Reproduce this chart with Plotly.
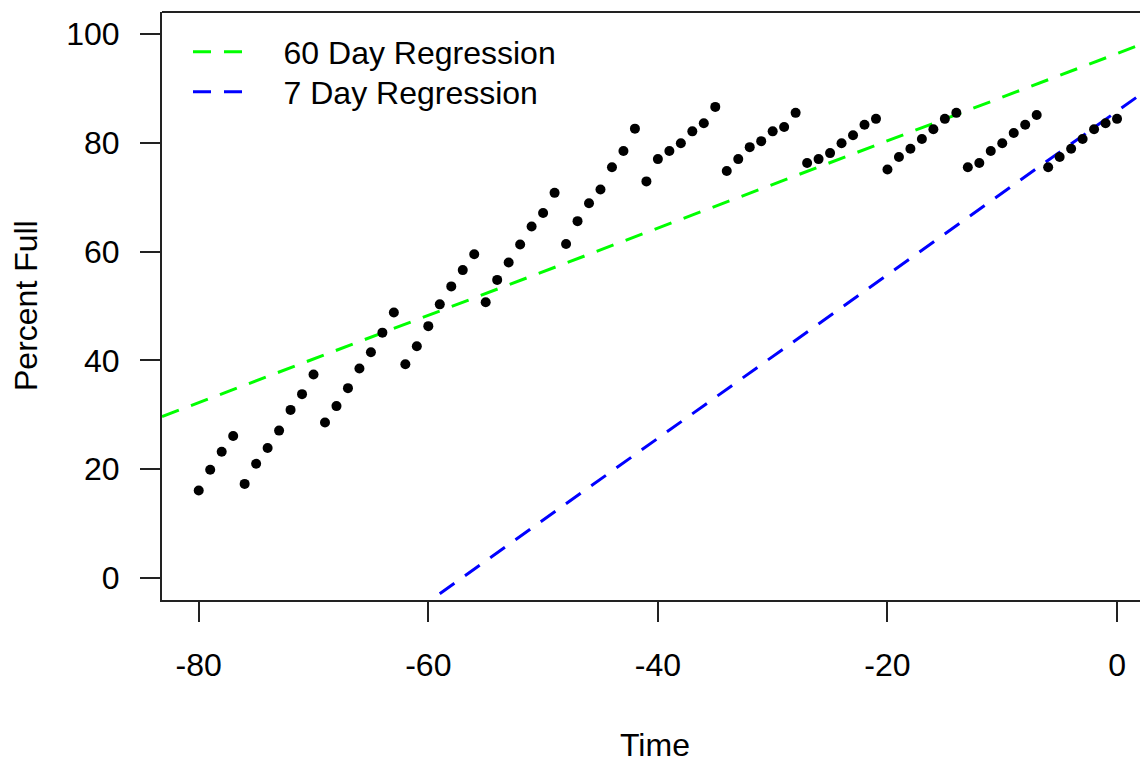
import plotly.graph_objects as go
import numpy as np

# ---- data ----
days = [-80, -79, -78, -77, -76, -75, -74, -73, -72, -71, -70,
        -69, -68, -67, -66, -65, -64, -63, -62, -61, -60,
        -59, -58, -57, -56, -55, -54, -53, -52, -51, -50,
        -49, -48, -47, -46, -45, -44, -43, -42, -41, -40,
        -39, -38, -37, -36, -35, -34, -33, -32, -31, -30,
        -29, -28, -27, -26, -25, -24, -23, -22, -21, -20,
        -19, -18, -17, -16, -15, -14, -13, -12, -11, -10,
        -9, -8, -7, -6, -5, -4, -3, -2, -1, 0]
percent_full = [16.1, 19.9, 23.2, 26.1,
                17.3, 21.0, 23.9, 27.1, 30.9, 33.8, 37.4,
                28.6, 31.6, 34.9, 38.5, 41.5, 45.1, 48.8,
                39.3, 42.6, 46.3, 50.3, 53.6, 56.6, 59.5,
                50.7, 54.8, 58.0, 61.3, 64.6, 67.1, 70.8,
                61.4, 65.6, 68.9, 71.4, 75.5, 78.5, 82.6,
                72.9, 77.0, 78.5, 79.9, 82.1, 83.6, 86.6,
                74.8, 77.0, 79.2, 80.3, 82.1, 82.9, 85.5,
                76.3, 77.0, 78.1, 79.9, 81.4, 83.3, 84.4,
                75.1, 77.4, 78.9, 80.7, 82.5, 84.4, 85.5,
                75.5, 76.3, 78.5, 79.9, 81.8, 83.3, 85.1,
                75.5, 77.4, 78.9, 80.7, 82.5, 83.6, 84.4]

reg_names = ["60 Day Regression", "7 Day Regression"]
reg_intercepts = [96.4, 85.8]
reg_slopes = [0.802, 1.503]
reg_colors = ["#00FF00", "#0000FF"]

x_ticks = [-80, -60, -40, -20, 0]
y_ticks = [0, 20, 40, 60, 80, 100]

X_RANGE = [-83.2, 2.0]
Y_RANGE = [-4.04, 104.04]

FONT = "Liberation Sans, Arial, sans-serif"
FS = 32
PAD = "\u00a0" * 4  # gap between legend sample and legend text

fig = go.Figure()

legend_ids = ["legend", "legend2"]
xl = np.array(X_RANGE)
for name, a, b, c, lg in zip(reg_names, reg_intercepts, reg_slopes, reg_colors, legend_ids):
    fig.add_trace(go.Scatter(
        x=xl, y=a + b * xl, mode="lines", name=PAD + name, legend=lg,
        line=dict(color=c, width=3, dash="18px,13px"),
    ))

fig.add_trace(go.Scatter(
    x=days, y=percent_full, mode="markers", showlegend=False,
    marker=dict(color="black", size=10, line=dict(width=0)),
))

legend_common = dict(
    xanchor="left", yanchor="middle",
    bgcolor="rgba(0,0,0,0)", borderwidth=0,
    font=dict(family=FONT, size=FS, color="black"),
    itemwidth=50,
)

fig.update_layout(
    width=1140, height=762,
    margin=dict(l=162, r=0, t=12, b=162),
    paper_bgcolor="white", plot_bgcolor="white",
    font=dict(family=FONT, size=FS, color="black"),
    showlegend=True,
    legend=dict(x=(188 - 162) / 978, y=(600 - 52) / 588, **legend_common),
    legend2=dict(x=(188 - 162) / 978, y=(600 - 92) / 588, **legend_common),
    xaxis=dict(
        range=X_RANGE, tickvals=x_ticks, ticktext=[str(v) for v in x_ticks],
        showgrid=False, zeroline=False, showline=True, linecolor="#222",
        linewidth=2, ticks="outside", ticklen=20, tickwidth=2, tickcolor="#222",
        ticklabelstandoff=16,
        tickfont=dict(family=FONT, size=FS, color="black"),
    ),
    yaxis=dict(
        range=Y_RANGE, tickvals=y_ticks, ticktext=[str(v) for v in y_ticks],
        showgrid=False, zeroline=False, showline=True, linecolor="#222",
        linewidth=2, ticks="outside", ticklen=20, tickwidth=2, tickcolor="#222",
        ticklabelstandoff=14,
        tickfont=dict(family=FONT, size=FS, color="black"),
    ),
    shapes=[dict(type="line", xref="paper", yref="paper", x0=0, x1=1, y0=1, y1=1,
                 line=dict(color="#222", width=2))],
    annotations=[
        dict(text="Time", xref="paper", yref="paper", x=0.5046, y=(600 - 745) / 588,
             xanchor="center", yanchor="middle", showarrow=False,
             font=dict(family=FONT, size=FS, color="black")),
        dict(text="Percent Full", xref="paper", yref="paper", x=(26 - 162) / 978, y=0.5,
             xanchor="center", yanchor="middle", showarrow=False, textangle=-90,
             font=dict(family=FONT, size=FS, color="black")),
    ],
)

fig.write_html("out.html")
